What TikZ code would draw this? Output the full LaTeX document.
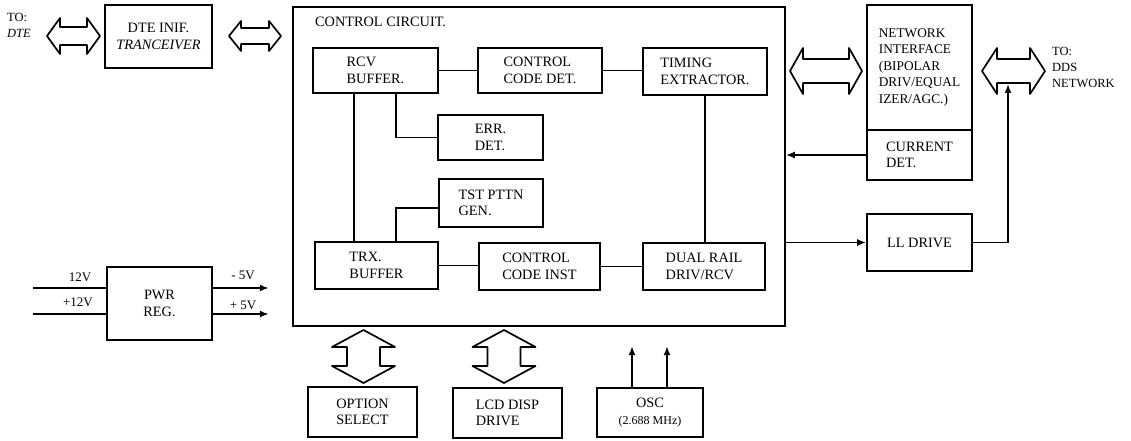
\documentclass[tikz,border=0pt]{standalone}
\usepackage{fontspec}
\setmainfont{Liberation Serif}
\usetikzlibrary{arrows.meta}
\newcommand\fs{\fontsize{14.3}{16.5}\selectfont}
\newcommand\fsn{\fontsize{13.3}{16.5}\selectfont}
\newcommand\fsm{\fontsize{12.5}{16}\selectfont}
\newcommand\harrow[6]{% x1 x2 cy H h L
  \draw[fat] (#1,#3) -- (#1+#6,#3-#4) -- (#1+#6,#3-#5) -- (#2-#6,#3-#5) -- (#2-#6,#3-#4) -- (#2,#3)
    -- (#2-#6,#3+#4) -- (#2-#6,#3+#5) -- (#1+#6,#3+#5) -- (#1+#6,#3+#4) -- cycle;}
\newcommand\varrow[6]{% cx y1 y2 H h L
  \draw[fat] (#1,#2) -- (#1+#4,#2+#6) -- (#1+#5,#2+#6) -- (#1+#5,#3-#6) -- (#1+#4,#3-#6) -- (#1,#3)
    -- (#1-#4,#3-#6) -- (#1-#5,#3-#6) -- (#1-#5,#2+#6) -- (#1-#4,#2+#6) -- cycle;}
\begin{document}
\begin{tikzpicture}[x=1pt,y=-1pt,
  box/.style={draw, line width=1.7pt, inner sep=0pt, align=left, font=\fs},
  wire/.style={line width=1.7pt},
  fat/.style={draw, line width=1.7pt, fill=white, line join=round},
  arr/.style={line width=1.7pt, -{Latex[length=9pt,width=7pt]}},
  lbl/.style={inner sep=0pt, font=\fsm, align=left}]
\useasboundingbox (0,0) rectangle (1131,441);

% left side
\node[lbl, anchor=north west] (todte) at (7,13) {TO:\\\textit{DTE}};
\harrow{47}{100}{36}{18}{9}{13}
\node[box, align=center, minimum width=107pt, minimum height=63pt] (dte) at (158.5,36.5) {DTE INIF.\\\textit{TRANCEIVER}};
\harrow{229}{281}{36}{15}{8}{12}

% control circuit
\node[box, minimum width=492pt, minimum height=319pt] (ctrl) at (539,166.5) {};
\node[inner sep=0pt, font=\fs, anchor=base west] (ctitle) at (315,27) {CONTROL CIRCUIT.};
\node[box, minimum width=125pt, minimum height=45pt] (rcv) at (375.5,70.5) {RCV\\BUFFER.};
\node[box, minimum width=124pt, minimum height=45pt] (ccd) at (540,70.5) {CONTROL\\CODE DET.};
\node[box, minimum width=124pt, minimum height=47pt] (tim) at (705,71.5) {TIMING\\EXTRACTOR.};
\node[box, minimum width=105pt, minimum height=45pt] (err) at (490.5,137.5) {ERR.\\DET.};
\node[box, minimum width=104pt, minimum height=48pt] (tst) at (491,203) {TST PTTN\\GEN.};
\node[box, minimum width=123pt, minimum height=47pt] (trx) at (376.5,265.5) {TRX.\\BUFFER};
\node[box, minimum width=121pt, minimum height=47pt] (cci) at (539.5,266.5) {CONTROL\\CODE INST};
\node[box, minimum width=122pt, minimum height=47pt] (dual) at (704,266.5) {DUAL RAIL\\DRIV/RCV};

\draw[wire] (rcv.east) -- (rcv.east -| ccd.west);
\draw[wire] (ccd.east) -- (ccd.east -| tim.west);
\draw[wire] ([xshift=42pt]rcv.south west) -- ([xshift=42pt]rcv.south west |- trx.north);
\draw[wire] ([xshift=84pt]rcv.south west) |- (err.west);
\draw[wire] ([xshift=82pt]trx.north west) |- ([yshift=-5pt]tst.west);
\draw[wire] (trx.east) -- (trx.east -| cci.west);
\draw[wire] (cci.east) -- (cci.east -| dual.west);
\draw[wire] (tim.south) -- (tim.south |- dual.north);

% network side
\harrow{790}{862}{71}{23}{12}{13}
\node[box, font=\fsn, minimum width=105pt, minimum height=125pt] (neta) at (919.5,67.5) {NETWORK\\INTERFACE\\(BIPOLAR\\DRIV/EQUAL\\IZER/AGC.)};
\node[box, minimum width=105pt, minimum height=50pt] (netb) at (919.5,155) {CURRENT\\DET.};
\harrow{982}{1045}{71}{23}{12}{15}
\node[lbl, anchor=north west] (todds) at (1052,47) {TO:\\DDS\\NETWORK};
\node[box, minimum width=105pt, minimum height=57pt] (ll) at (919.5,242.5) {LL DRIVE};
\coordinate (ddsb) at (1008,84);
\draw[arr] (netb.west) -- (netb.west -| ctrl.east);
\draw[arr] (ll.west -| ctrl.east) -- (ll.west);
\draw[arr] (ll.east) -| (ddsb);

% power regulator
\node[box, align=center, minimum width=105pt, minimum height=73pt] (pwr) at (159.5,303.5) {PWR\\REG.};
\coordinate (in1) at (33,288);
\coordinate (in2) at (33,314);
\draw[wire] (in1) -- (in1 -| pwr.west);
\draw[wire] (in2) -- (in2 -| pwr.west);
\draw[arr] (pwr.east |- in1) -- ++(56,0);
\draw[arr] (pwr.east |- in2) -- ++(56,0);
\node[lbl, font=\fontsize{13}{15}\selectfont] (l12) at (80,277) {12V};
\node[lbl, font=\fontsize{13}{15}\selectfont] (lp12) at (78,302) {+12V};
\node[lbl, font=\fontsize{13}{15}\selectfont] (lm5) at (243,275) {- 5V};
\node[lbl, font=\fontsize{13}{15}\selectfont] (lp5) at (243,305) {+ 5V};

% bottom blocks
\varrow{363.5}{330}{383}{31.5}{16.5}{17}
\varrow{504}{330}{383}{31.5}{16.5}{17}
\node[box, align=center, minimum width=109pt, minimum height=50pt] (opt) at (362.5,412) {OPTION\\SELECT};
\node[box, minimum width=109pt, minimum height=50pt] (lcd) at (507.5,413) {LCD DISP\\DRIVE};
\node[box, align=center, minimum width=106pt, minimum height=49pt] (osc) at (650,412.5) {OSC\\{\fontsize{12}{14}\selectfont(2.688 MHz)}};
\draw[arr] ([xshift=-18pt]osc.north) -- ++(0,-41);
\draw[arr] ([xshift=17pt]osc.north) -- ++(0,-41);
\end{tikzpicture}
\end{document}
